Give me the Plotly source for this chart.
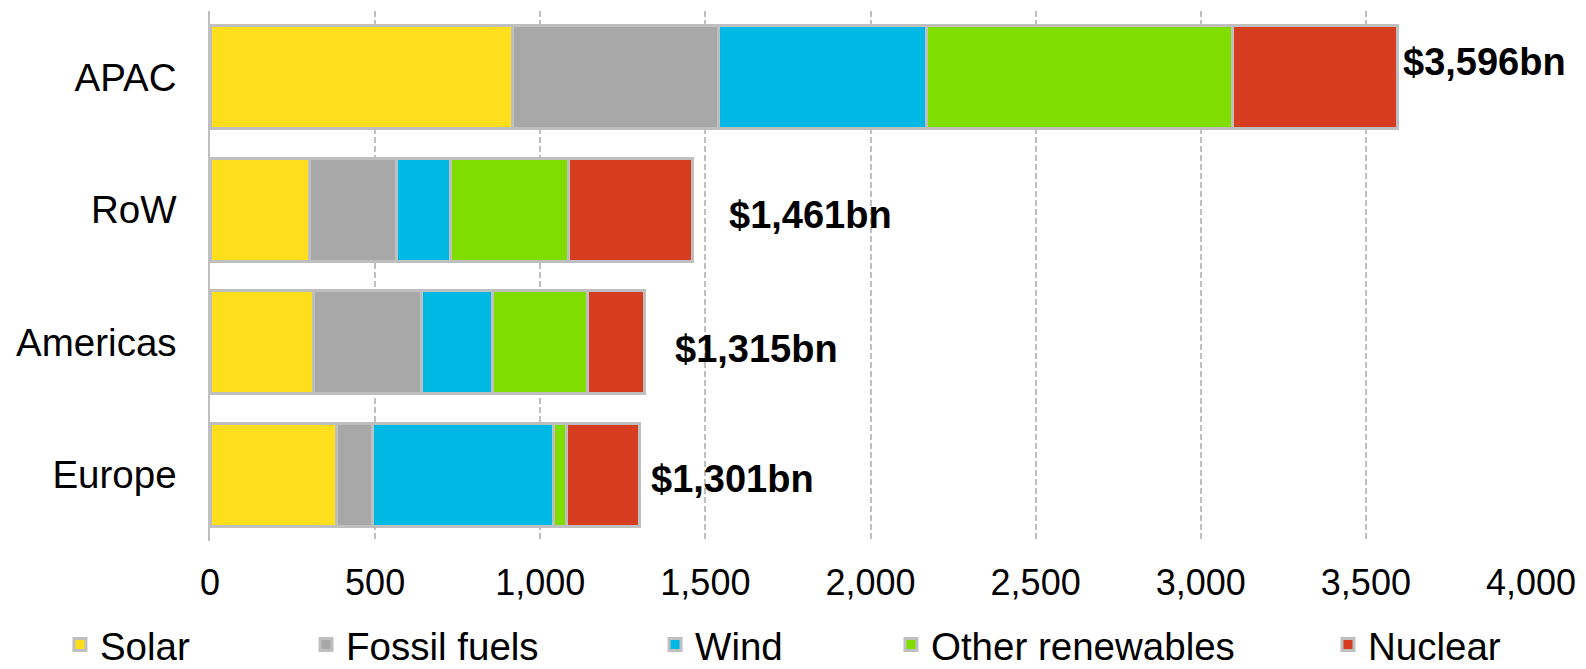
import plotly.graph_objects as go

regions = ["APAC", "RoW", "Americas", "Europe"]
series_names = ["Solar", "Fossil fuels", "Wind", "Other renewables", "Nuclear"]
solar = [915, 300, 314, 382]
fossil = [625, 266, 327, 111]
wind = [629, 161, 214, 546]
other = [926, 358, 288, 41]
nuclear = [501, 376, 172, 221]
totals = [3596, 1461, 1315, 1301]
total_labels = ["$3,596bn", "$1,461bn", "$1,315bn", "$1,301bn"]
x_ticks = [0, 500, 1000, 1500, 2000, 2500, 3000, 3500, 4000]
x_tick_labels = ["0", "500", "1,000", "1,500", "2,000", "2,500", "3,000", "3,500", "4,000"]

colors = ["#FFDF1B", "#A8A8A8", "#00B8E4", "#80DD00", "#D63C20"]
series_values = [solar, fossil, wind, other, nuclear]

FONT = "Liberation Sans, Arial, sans-serif"

# one legend per series so each entry can be placed like the original
legend_ids = ["legend", "legend2", "legend3", "legend4", "legend5"]
legend_x = [-0.1136, 0.0727, 0.3369, 0.5155, 0.8463]

fig = go.Figure()
for name, vals, col, lid in zip(series_names, series_values, colors, legend_ids):
    fig.add_trace(go.Bar(
        y=regions, x=vals, name=name, orientation="h", legend=lid,
        marker=dict(color=col, line=dict(color="#BFBFBF", width=3)),
    ))

# label offsets (px) to the right of each bar and vertical shifts
xshifts = [3, 34, 29, 9]
yshifts = [15, -5, -7, -4]
for reg, tot, lab, xs, ys in zip(regions, totals, total_labels, xshifts, yshifts):
    fig.add_annotation(x=tot, y=reg, text="<b>" + lab + "</b>", showarrow=False,
                       xanchor="left", yanchor="middle", xshift=xs, yshift=ys,
                       font=dict(family=FONT, size=38, color="black"))

legend_style = dict(orientation="h", xanchor="left", y=-0.136, yanchor="top",
                    font=dict(family=FONT, size=38.5, color="black"),
                    itemwidth=30, bgcolor="rgba(0,0,0,0)")
layout_legends = {}
for lid, lx in zip(legend_ids, legend_x):
    layout_legends[lid] = dict(legend_style, x=lx)

fig.update_layout(
    barmode="stack",
    bargap=0.225,
    width=1578, height=661,
    margin=dict(l=202, r=55, t=3, b=128, autoexpand=False),
    plot_bgcolor="white", paper_bgcolor="white",
    font=dict(family=FONT, size=36, color="black"),
    showlegend=True,
    **layout_legends,
)
fig.update_xaxes(
    range=[0, 4000], tickvals=x_ticks, ticktext=x_tick_labels,
    showgrid=True, gridcolor="#BFBFBF", griddash="6px,3px", gridwidth=1.5,
    zeroline=False, showline=False, ticks="", ticklabelstandoff=17,
    automargin=False,
    tickfont=dict(family=FONT, size=36, color="black"),
)
fig.update_yaxes(
    categoryorder="array", categoryarray=regions, autorange="reversed",
    showline=True, linecolor="#BFBFBF", linewidth=1.5, showgrid=False,
    ticks="", ticklabelstandoff=24, automargin=False,
    tickfont=dict(family=FONT, size=38.5, color="black"),
)
fig.write_html("out.html")
